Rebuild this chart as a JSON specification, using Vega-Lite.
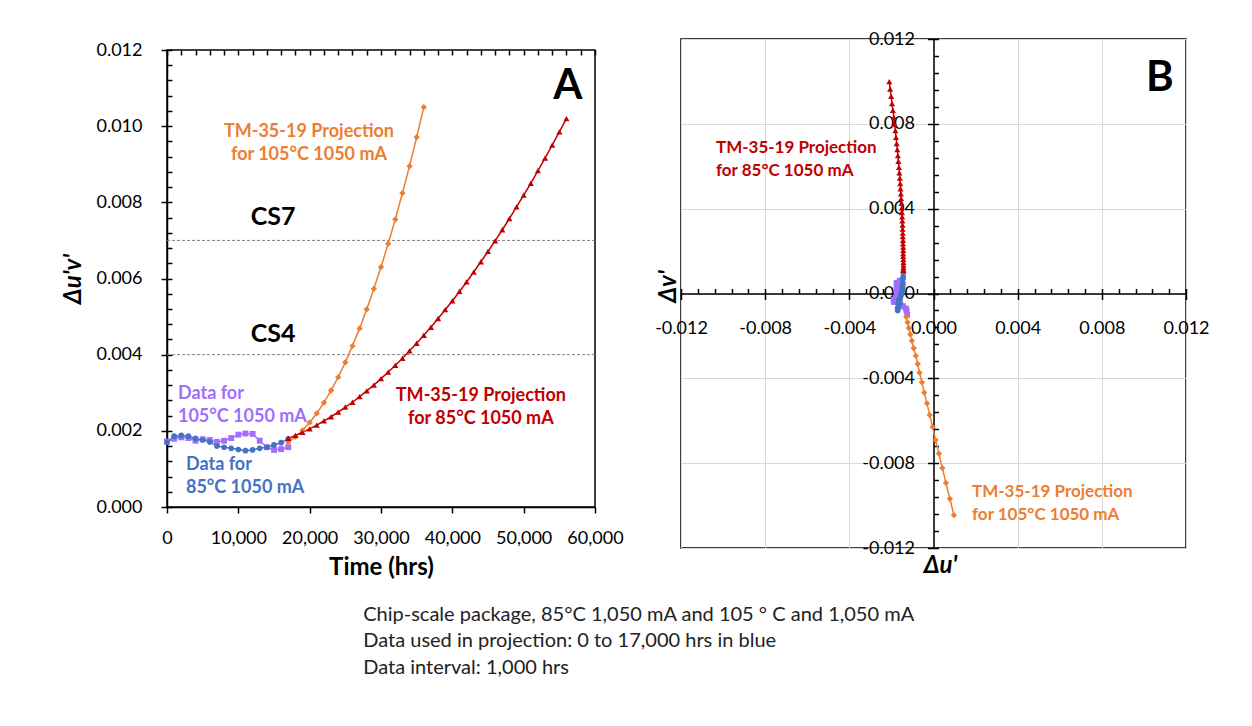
{
  "$schema": "https://vega.github.io/schema/vega-lite/v6.json",
  "background": "white",
  "padding": {"left": 61, "top": 29, "right": 5, "bottom": 5},
  "config": {
    "font": "Lato",
    "view": {"stroke": "#000", "strokeWidth": 1.5},
    "axis": {"labelFont": "Lato", "titleFont": "Lato", "labelColor": "#000", "titleColor": "#000", "domainColor": "#000", "tickColor": "#000", "labelFontSize": 18, "labelOverlap": false, "labelFlush": false}
  },
  "title": {
    "text": ["Chip-scale package, 85°C 1,050 mA and 105 ° C and 1,050 mA", "Data used in projection: 0  to 17,000 hrs in blue", "Data interval:  1,000 hrs"],
    "orient": "bottom", "anchor": "start", "dx": 302, "offset": 25,
    "fontSize": 20, "fontWeight": "normal", "lineHeight": 26.5, "color": "#222", "font": "Lato"
  },
  "spacing": 29,
  "datasets": {
    "aser": [
      {"t":0,"d":0.00172,"s":"105data"},{"t":1000,"d":0.00179,"s":"105data"},{"t":2000,"d":0.00183,"s":"105data"},{"t":3000,"d":0.00181,"s":"105data"},{"t":4000,"d":0.00174,"s":"105data"},{"t":5000,"d":0.00178,"s":"105data"},{"t":6000,"d":0.00176,"s":"105data"},{"t":7000,"d":0.00171,"s":"105data"},{"t":8000,"d":0.00174,"s":"105data"},{"t":9000,"d":0.00181,"s":"105data"},{"t":10000,"d":0.00190,"s":"105data"},{"t":11000,"d":0.00193,"s":"105data"},{"t":12000,"d":0.00192,"s":"105data"},{"t":13000,"d":0.00174,"s":"105data"},{"t":14000,"d":0.00157,"s":"105data"},{"t":15000,"d":0.00150,"s":"105data"},{"t":16000,"d":0.00152,"s":"105data"},{"t":17000,"d":0.00157,"s":"105data"},
      {"t":0,"d":0.00170,"s":"85data"},{"t":1000,"d":0.00186,"s":"85data"},{"t":2000,"d":0.00188,"s":"85data"},{"t":3000,"d":0.00186,"s":"85data"},{"t":4000,"d":0.00180,"s":"85data"},{"t":5000,"d":0.00176,"s":"85data"},{"t":6000,"d":0.00171,"s":"85data"},{"t":7000,"d":0.00160,"s":"85data"},{"t":8000,"d":0.00157,"s":"85data"},{"t":9000,"d":0.00154,"s":"85data"},{"t":10000,"d":0.00151,"s":"85data"},{"t":11000,"d":0.00148,"s":"85data"},{"t":12000,"d":0.00150,"s":"85data"},{"t":13000,"d":0.00154,"s":"85data"},{"t":14000,"d":0.00157,"s":"85data"},{"t":15000,"d":0.00163,"s":"85data"},{"t":16000,"d":0.00169,"s":"85data"},{"t":17000,"d":0.00179,"s":"85data"},
      {"t":17000,"d":0.00170,"s":"105proj"},{"t":18000,"d":0.00184,"s":"105proj"},{"t":19000,"d":0.00201,"s":"105proj"},{"t":20000,"d":0.00222,"s":"105proj"},{"t":21000,"d":0.00246,"s":"105proj"},{"t":22000,"d":0.00274,"s":"105proj"},{"t":23000,"d":0.00306,"s":"105proj"},{"t":24000,"d":0.00341,"s":"105proj"},{"t":25000,"d":0.00380,"s":"105proj"},{"t":26000,"d":0.00423,"s":"105proj"},{"t":27000,"d":0.00469,"s":"105proj"},{"t":28000,"d":0.00519,"s":"105proj"},{"t":29000,"d":0.00573,"s":"105proj"},{"t":30000,"d":0.00630,"s":"105proj"},{"t":31000,"d":0.00691,"s":"105proj"},{"t":32000,"d":0.00755,"s":"105proj"},{"t":33000,"d":0.00824,"s":"105proj"},{"t":34000,"d":0.00895,"s":"105proj"},{"t":35000,"d":0.00971,"s":"105proj"},{"t":36000,"d":0.01050,"s":"105proj"},
      {"t":17000,"d":0.00180,"s":"85proj"},{"t":18000,"d":0.00188,"s":"85proj"},{"t":19000,"d":0.00196,"s":"85proj"},{"t":20000,"d":0.00205,"s":"85proj"},{"t":21000,"d":0.00215,"s":"85proj"},{"t":22000,"d":0.00226,"s":"85proj"},{"t":23000,"d":0.00237,"s":"85proj"},{"t":24000,"d":0.00249,"s":"85proj"},{"t":25000,"d":0.00262,"s":"85proj"},{"t":26000,"d":0.00275,"s":"85proj"},{"t":27000,"d":0.00290,"s":"85proj"},{"t":28000,"d":0.00305,"s":"85proj"},{"t":29000,"d":0.00320,"s":"85proj"},{"t":30000,"d":0.00337,"s":"85proj"},{"t":31000,"d":0.00354,"s":"85proj"},{"t":32000,"d":0.00372,"s":"85proj"},{"t":33000,"d":0.00390,"s":"85proj"},{"t":34000,"d":0.00410,"s":"85proj"},{"t":35000,"d":0.00430,"s":"85proj"},{"t":36000,"d":0.00451,"s":"85proj"},{"t":37000,"d":0.00472,"s":"85proj"},{"t":38000,"d":0.00495,"s":"85proj"},{"t":39000,"d":0.00518,"s":"85proj"},{"t":40000,"d":0.00541,"s":"85proj"},{"t":41000,"d":0.00566,"s":"85proj"},{"t":42000,"d":0.00591,"s":"85proj"},{"t":43000,"d":0.00617,"s":"85proj"},{"t":44000,"d":0.00644,"s":"85proj"},{"t":45000,"d":0.00671,"s":"85proj"},{"t":46000,"d":0.00699,"s":"85proj"},{"t":47000,"d":0.00728,"s":"85proj"},{"t":48000,"d":0.00757,"s":"85proj"},{"t":49000,"d":0.00788,"s":"85proj"},{"t":50000,"d":0.00819,"s":"85proj"},{"t":51000,"d":0.00850,"s":"85proj"},{"t":52000,"d":0.00883,"s":"85proj"},{"t":53000,"d":0.00916,"s":"85proj"},{"t":54000,"d":0.00950,"s":"85proj"},{"t":55000,"d":0.00985,"s":"85proj"},{"t":56000,"d":0.01020,"s":"85proj"}
    ],
    "bser": [
      {"u":-0.00160,"v":0.00060,"s":"105data"},{"u":-0.00170,"v":0.00050,"s":"105data"},{"u":-0.00175,"v":0.00050,"s":"105data"},{"u":-0.00175,"v":0.00040,"s":"105data"},{"u":-0.00170,"v":0.00030,"s":"105data"},{"u":-0.00175,"v":0.00020,"s":"105data"},{"u":-0.00175,"v":0.00010,"s":"105data"},{"u":-0.00170,"v":0.00000,"s":"105data"},{"u":-0.00173,"v":-0.00010,"s":"105data"},{"u":-0.00180,"v":-0.00020,"s":"105data"},{"u":-0.00187,"v":-0.00030,"s":"105data"},{"u":-0.00190,"v":-0.00030,"s":"105data"},{"u":-0.00188,"v":-0.00040,"s":"105data"},{"u":-0.00165,"v":-0.00050,"s":"105data"},{"u":-0.00145,"v":-0.00060,"s":"105data"},{"u":-0.00132,"v":-0.00070,"s":"105data"},{"u":-0.00128,"v":-0.00080,"s":"105data"},{"u":-0.00125,"v":-0.00100,"s":"105data"},
      {"u":-0.00160,"v":-0.00050,"s":"85data"},{"u":-0.00170,"v":-0.00070,"s":"85data"},{"u":-0.00170,"v":-0.00080,"s":"85data"},{"u":-0.00170,"v":-0.00070,"s":"85data"},{"u":-0.00168,"v":-0.00050,"s":"85data"},{"u":-0.00165,"v":-0.00040,"s":"85data"},{"u":-0.00165,"v":-0.00030,"s":"85data"},{"u":-0.00158,"v":-0.00020,"s":"85data"},{"u":-0.00155,"v":-0.00010,"s":"85data"},{"u":-0.00153,"v":0.00000,"s":"85data"},{"u":-0.00150,"v":0.00010,"s":"85data"},{"u":-0.00147,"v":0.00020,"s":"85data"},{"u":-0.00147,"v":0.00030,"s":"85data"},{"u":-0.00146,"v":0.00040,"s":"85data"},{"u":-0.00146,"v":0.00050,"s":"85data"},{"u":-0.00145,"v":0.00070,"s":"85data"},{"u":-0.00144,"v":0.00080,"s":"85data"},{"u":-0.00143,"v":0.00100,"s":"85data"},
      {"u":-0.00130,"v":-0.00110,"s":"105proj"},{"u":-0.00123,"v":-0.00136,"s":"105proj"},{"u":-0.00117,"v":-0.00163,"s":"105proj"},{"u":-0.00110,"v":-0.00193,"s":"105proj"},{"u":-0.00103,"v":-0.00223,"s":"105proj"},{"u":-0.00094,"v":-0.00258,"s":"105proj"},{"u":-0.00084,"v":-0.00294,"s":"105proj"},{"u":-0.00075,"v":-0.00332,"s":"105proj"},{"u":-0.00066,"v":-0.00374,"s":"105proj"},{"u":-0.00055,"v":-0.00419,"s":"105proj"},{"u":-0.00044,"v":-0.00467,"s":"105proj"},{"u":-0.00031,"v":-0.00518,"s":"105proj"},{"u":-0.00018,"v":-0.00573,"s":"105proj"},{"u":-0.00004,"v":-0.00630,"s":"105proj"},{"u":0.00010,"v":-0.00691,"s":"105proj"},{"u":0.00026,"v":-0.00755,"s":"105proj"},{"u":0.00042,"v":-0.00823,"s":"105proj"},{"u":0.00059,"v":-0.00893,"s":"105proj"},{"u":0.00078,"v":-0.00968,"s":"105proj"},{"u":0.00097,"v":-0.01045,"s":"105proj"},
      {"u":-0.00143,"v":0.00109,"s":"85proj"},{"u":-0.00143,"v":0.00122,"s":"85proj"},{"u":-0.00143,"v":0.00134,"s":"85proj"},{"u":-0.00143,"v":0.00147,"s":"85proj"},{"u":-0.00143,"v":0.00161,"s":"85proj"},{"u":-0.00144,"v":0.00175,"s":"85proj"},{"u":-0.00144,"v":0.00188,"s":"85proj"},{"u":-0.00144,"v":0.00203,"s":"85proj"},{"u":-0.00144,"v":0.00219,"s":"85proj"},{"u":-0.00145,"v":0.00234,"s":"85proj"},{"u":-0.00145,"v":0.00251,"s":"85proj"},{"u":-0.00146,"v":0.00268,"s":"85proj"},{"u":-0.00146,"v":0.00285,"s":"85proj"},{"u":-0.00147,"v":0.00304,"s":"85proj"},{"u":-0.00147,"v":0.00322,"s":"85proj"},{"u":-0.00148,"v":0.00342,"s":"85proj"},{"u":-0.00149,"v":0.00361,"s":"85proj"},{"u":-0.00150,"v":0.00382,"s":"85proj"},{"u":-0.00151,"v":0.00403,"s":"85proj"},{"u":-0.00152,"v":0.00425,"s":"85proj"},{"u":-0.00154,"v":0.00447,"s":"85proj"},{"u":-0.00155,"v":0.00470,"s":"85proj"},{"u":-0.00157,"v":0.00494,"s":"85proj"},{"u":-0.00158,"v":0.00518,"s":"85proj"},{"u":-0.00160,"v":0.00544,"s":"85proj"},{"u":-0.00162,"v":0.00569,"s":"85proj"},{"u":-0.00164,"v":0.00595,"s":"85proj"},{"u":-0.00167,"v":0.00623,"s":"85proj"},{"u":-0.00169,"v":0.00650,"s":"85proj"},{"u":-0.00172,"v":0.00678,"s":"85proj"},{"u":-0.00175,"v":0.00707,"s":"85proj"},{"u":-0.00178,"v":0.00736,"s":"85proj"},{"u":-0.00181,"v":0.00768,"s":"85proj"},{"u":-0.00185,"v":0.00799,"s":"85proj"},{"u":-0.00188,"v":0.00830,"s":"85proj"},{"u":-0.00193,"v":0.00863,"s":"85proj"},{"u":-0.00197,"v":0.00895,"s":"85proj"},{"u":-0.00201,"v":0.00929,"s":"85proj"},{"u":-0.00206,"v":0.00964,"s":"85proj"},{"u":-0.00210,"v":0.00999,"s":"85proj"}
    ]
  },
  "hconcat": [
    {
      "spacing": 0,
      "vconcat": [
        {
          "width": 428,
          "height": 0.01,
          "view": {"stroke": null},
          "data": {"values": []},
          "mark": {"type": "point", "opacity": 0}
        },
        {
          "width": 428,
          "height": 457,
          "resolve": {"axis": {"x": "independent", "y": "independent"}},
          "layer": [
            {
              "data": {"values": [{"level": 0.007}, {"level": 0.004}]},
              "mark": {"type": "rule", "color": "#808080", "strokeDash": [3, 2], "strokeWidth": 1},
              "encoding": {"y": {"field": "level", "type": "quantitative", "scale": {"domain": [0, 0.012], "nice": false}, "axis": null}}
            },
            {
              "data": {"name": "aser"},
              "mark": {"type": "line", "strokeWidth": 1.5},
              "encoding": {
                "x": {"field": "t", "type": "quantitative", "scale": {"domain": [0, 60000], "nice": false},
                  "axis": {"values": [0, 10000, 20000, 30000, 40000, 50000, 60000], "format": ",.0f", "title": "Time (hrs)", "titleFontSize": 24, "titleFontWeight": "bold", "titlePadding": 8, "tickSize": 6, "tickWidth": 1.5, "domainWidth": 1.5, "labelPadding": 16, "grid": false}},
                "y": {"field": "d", "type": "quantitative", "scale": {"domain": [0, 0.012], "nice": false},
                  "axis": {"values": [0, 0.002, 0.004, 0.006, 0.008, 0.01, 0.012], "format": ".3f", "title": "Δu'v'", "titleFontSize": 24, "titleFontWeight": "bold", "titleFontStyle": "italic", "titlePadding": 10, "tickSize": 6, "tickWidth": 1.5, "domainWidth": 1.5, "labelPadding": 19, "grid": false}},
                "color": {"field": "s", "type": "nominal", "scale": {"domain": ["85data", "105data", "85proj", "105proj"], "range": ["#4472C4", "#A16EFF", "#C00000", "#ED7D31"]}, "legend": null}
              }
            },
            {
              "data": {"name": "aser"},
              "mark": {"type": "point", "filled": true, "opacity": 1},
              "encoding": {
                "x": {"field": "t", "type": "quantitative",
                  "axis": {"values": [0,2000,4000,6000,8000,10000,12000,14000,16000,18000,20000,22000,24000,26000,28000,30000,32000,34000,36000,38000,40000,42000,44000,46000,48000,50000,52000,54000,56000,58000,60000], "labels": false, "domain": false, "grid": false, "tickSize": -5, "tickWidth": 1.5, "title": null}},
                "y": {"field": "d", "type": "quantitative",
                  "axis": {"values": [0,0.0004,0.0008,0.0012,0.0016,0.002,0.0024,0.0028,0.0032,0.0036,0.004,0.0044,0.0048,0.0052,0.0056,0.006,0.0064,0.0068,0.0072,0.0076,0.008,0.0084,0.0088,0.0092,0.0096,0.01,0.0104,0.0108,0.0112,0.0116,0.012], "labels": false, "domain": false, "grid": false, "tickSize": -5, "tickWidth": 1.5, "title": null, "orient": "left"}},
                "color": {"field": "s", "type": "nominal", "legend": null},
                "shape": {"field": "s", "type": "nominal", "scale": {"domain": ["85data", "105data", "85proj", "105proj"], "range": ["circle", "square", "triangle-up", "diamond"]}, "legend": null},
                "size": {"field": "s", "type": "ordinal", "scale": {"domain": ["85data", "105data", "85proj", "105proj"], "range": [32, 40, 55, 42]}, "legend": null}
              }
            },
            {
              "data": {"values": [
                {"t": 19900, "d": 0.00985, "text": "TM-35-19 Projection\nfor 105°C  1050 mA", "s": "105proj"},
                {"t": 44000, "d": 0.00292, "text": "TM-35-19 Projection\nfor 85°C  1050 mA", "s": "85proj"}
              ]},
              "mark": {"type": "text", "fontWeight": "bold", "fontSize": 18, "align": "center", "baseline": "middle", "lineBreak": "\n", "lineHeight": 23},
              "encoding": {
                "x": {"field": "t", "type": "quantitative", "axis": null},
                "y": {"field": "d", "type": "quantitative", "axis": null},
                "text": {"field": "text"},
                "color": {"field": "s", "type": "nominal", "legend": null}
              }
            },
            {
              "data": {"values": [
                {"t": 1540, "d": 0.00297, "text": "Data for\n105°C  1050 mA", "s": "105data"},
                {"t": 2660, "d": 0.00110, "text": "Data for\n85°C  1050 mA", "s": "85data"}
              ]},
              "mark": {"type": "text", "fontWeight": "bold", "fontSize": 18, "align": "left", "baseline": "middle", "lineBreak": "\n", "lineHeight": 23},
              "encoding": {
                "x": {"field": "t", "type": "quantitative", "axis": null},
                "y": {"field": "d", "type": "quantitative", "axis": null},
                "text": {"field": "text"},
                "color": {"field": "s", "type": "nominal", "legend": null}
              }
            },
            {
              "data": {"values": [
                {"t": 14860, "d": 0.00761, "text": "CS7"},
                {"t": 14860, "d": 0.00454, "text": "CS4"}
              ]},
              "mark": {"type": "text", "fontWeight": "bold", "fontSize": 25, "align": "center", "baseline": "middle", "color": "#000"},
              "encoding": {
                "x": {"field": "t", "type": "quantitative", "axis": null},
                "y": {"field": "d", "type": "quantitative", "axis": null},
                "text": {"field": "text"}
              }
            },
            {
              "data": {"values": [{"t": 56200, "d": 0.01105, "text": "A"}]},
              "mark": {"type": "text", "fontWeight": "bold", "fontSize": 42, "align": "center", "baseline": "middle", "color": "#000"},
              "encoding": {
                "x": {"field": "t", "type": "quantitative", "axis": null},
                "y": {"field": "d", "type": "quantitative", "axis": null},
                "text": {"field": "text"}
              }
            }
          ]
        }
      ]
    },
    {
      "width": 505,
      "height": 509,
      "resolve": {"axis": {"x": "independent", "y": "independent"}},
      "layer": [
        {
          "data": {"name": "bser"},
          "mark": {"type": "line", "strokeWidth": 1.5},
          "encoding": {
            "x": {"field": "u", "type": "quantitative", "scale": {"domain": [-0.012, 0.012], "nice": false},
              "axis": {"orient": "bottom", "offset": -254.5, "values": [-0.012, -0.008, -0.004, 0, 0.004, 0.008, 0.012], "labelExpr": "replace(format(datum.value, '.3f'), '\u2212', '-')", "title": "Δu'", "titleFontSize": 24, "titleFontWeight": "bold", "titleFontStyle": "italic", "titleX": 259, "titleY": 272, "titleAlign": "center", "titleBaseline": "middle", "tickSize": 6, "tickWidth": 1.5, "domainWidth": 1.5, "labelPadding": 20, "grid": true, "gridColor": "#D9D9D9", "gridWidth": 1}},
            "y": {"field": "v", "type": "quantitative", "scale": {"domain": [-0.012, 0.012], "nice": false},
              "axis": {"orient": "left", "offset": -252.5, "values": [-0.012, -0.008, -0.004, 0, 0.004, 0.008, 0.012], "labelExpr": "replace(format(datum.value, '.3f'), '\u2212', '-')", "title": "Δv'", "titleFontSize": 24, "titleFontWeight": "bold", "titleFontStyle": "italic", "titleX": -265, "titleY": 247, "titleAlign": "center", "titleBaseline": "middle", "titleAngle": -90, "tickSize": 6, "tickWidth": 1.5, "domainWidth": 1.5, "labelPadding": 13, "grid": true, "gridColor": "#D9D9D9", "gridWidth": 1}},
            "color": {"field": "s", "type": "nominal", "scale": {"domain": ["85data", "105data", "85proj", "105proj"], "range": ["#4472C4", "#A16EFF", "#C00000", "#ED7D31"]}, "legend": null}
          }
        },
        {
          "data": {"name": "bser"},
          "mark": {"type": "point", "filled": true, "opacity": 1},
          "encoding": {
            "x": {"field": "u", "type": "quantitative",
              "axis": {"orient": "bottom", "offset": -254.5, "values": [-0.012,-0.0112,-0.0104,-0.0096,-0.0088,-0.008,-0.0072,-0.0064,-0.0056,-0.0048,-0.004,-0.0032,-0.0024,-0.0016,-0.0008,0,0.0008,0.0016,0.0024,0.0032,0.004,0.0048,0.0056,0.0064,0.0072,0.008,0.0088,0.0096,0.0104,0.0112,0.012], "labels": false, "domain": false, "grid": false, "tickSize": -5, "tickWidth": 1.5, "title": null}},
            "y": {"field": "v", "type": "quantitative",
              "axis": {"orient": "left", "offset": -252.5, "values": [-0.012,-0.0112,-0.0104,-0.0096,-0.0088,-0.008,-0.0072,-0.0064,-0.0056,-0.0048,-0.004,-0.0032,-0.0024,-0.0016,-0.0008,0,0.0008,0.0016,0.0024,0.0032,0.004,0.0048,0.0056,0.0064,0.0072,0.008,0.0088,0.0096,0.0104,0.0112,0.012], "labels": false, "domain": false, "grid": false, "tickSize": -5, "tickWidth": 1.5, "title": null}},
            "color": {"field": "s", "type": "nominal", "legend": null},
            "shape": {"field": "s", "type": "nominal", "scale": {"domain": ["85data", "105data", "85proj", "105proj"], "range": ["circle", "circle", "triangle-up", "diamond"]}, "legend": null},
            "size": {"field": "s", "type": "ordinal", "scale": {"domain": ["85data", "105data", "85proj", "105proj"], "range": [32, 32, 48, 36]}, "legend": null}
          }
        },
        {
          "data": {"values": [
            {"u": -0.01034, "v": 0.00686, "text": "TM-35-19 Projection\nfor 85°C 1050 mA", "s": "85proj"},
            {"u": 0.00183, "v": -0.00936, "text": "TM-35-19 Projection\nfor 105°C 1050 mA", "s": "105proj"}
          ]},
          "mark": {"type": "text", "fontWeight": "bold", "fontSize": 17, "align": "left", "baseline": "middle", "lineBreak": "\n", "lineHeight": 22.5},
          "encoding": {
            "x": {"field": "u", "type": "quantitative", "axis": null},
            "y": {"field": "v", "type": "quantitative", "axis": null},
            "text": {"field": "text"},
            "color": {"field": "s", "type": "nominal", "legend": null}
          }
        },
        {
          "data": {"values": [{"u": 0.01076, "v": 0.01016, "text": "B"}]},
          "mark": {"type": "text", "fontWeight": "bold", "fontSize": 42, "align": "center", "baseline": "middle", "color": "#000"},
          "encoding": {
            "x": {"field": "u", "type": "quantitative", "axis": null},
            "y": {"field": "v", "type": "quantitative", "axis": null},
            "text": {"field": "text"}
          }
        }
      ]
    }
  ]
}
